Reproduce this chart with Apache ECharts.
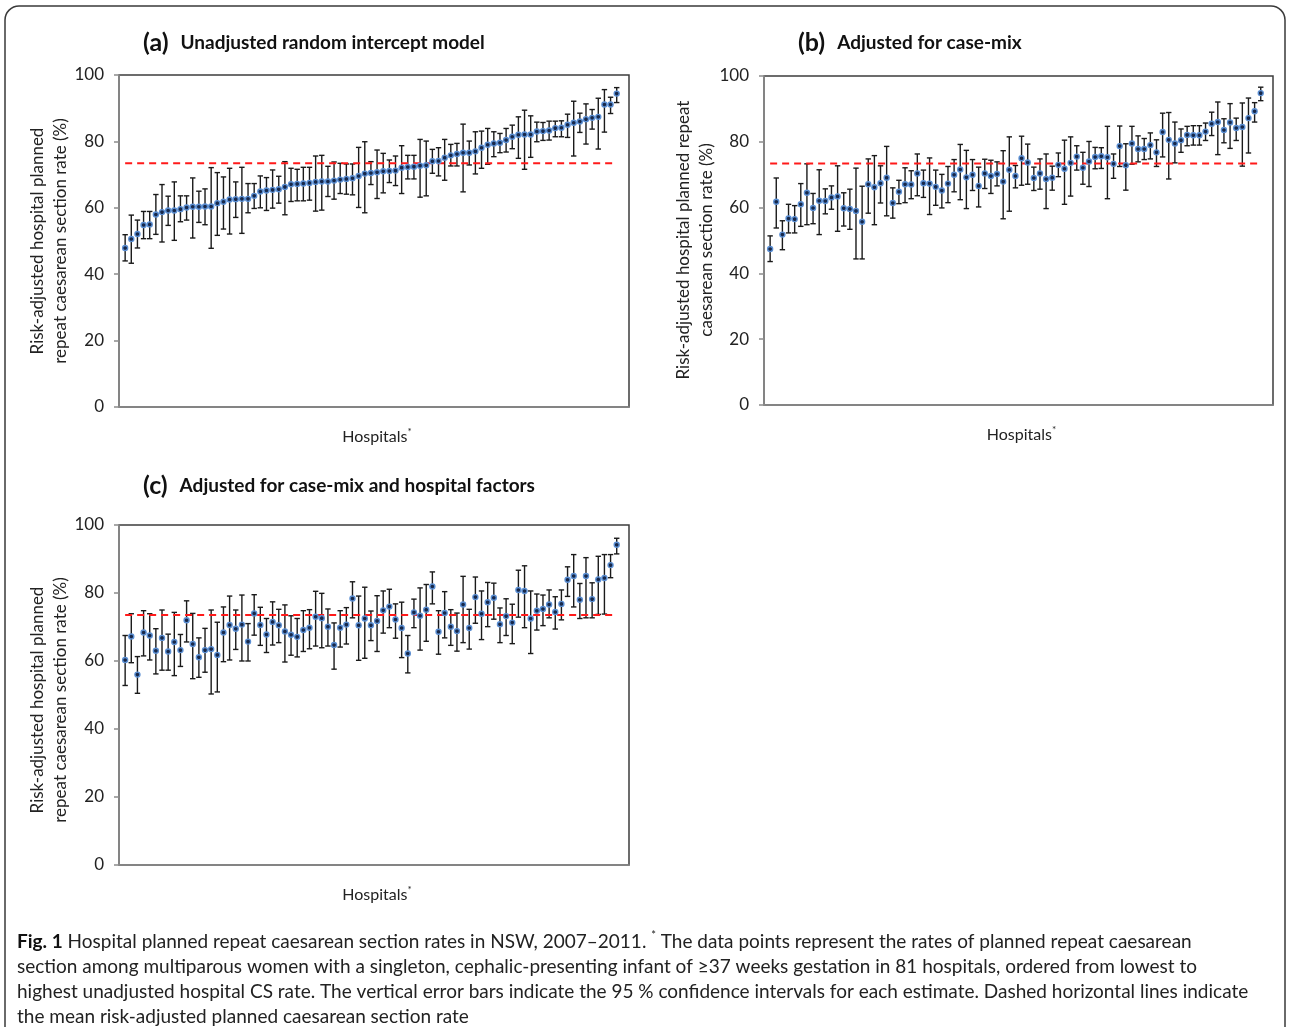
<!DOCTYPE html>
<html lang="en">
<head>
    <meta charset="UTF-8">
    <title>Hospital planned repeat caesarean section rates</title>
    <script src="https://cdn.jsdelivr.net/npm/echarts@6/dist/echarts.min.js"></script>
    <style>
        html, body {
            margin: 0;
            height: 100%;
            background: #fff;
        }
    </style>
</head>
<body>
<div id="main" style="width: 1290px;height: 1027px"></div>
</body>
</html>
<script>
    // (a) unadjusted random intercept model
    var rateA = [47.9, 50.6, 52.1, 54.8, 55.0, 58.0, 58.7, 59.2, 59.2, 59.6, 60.1, 60.3, 60.3, 60.4, 60.4, 61.4, 61.8, 62.5, 62.6, 62.7,
        62.7, 63.6, 64.9, 65.2, 65.4, 65.6, 66.3, 67.1, 67.2, 67.3, 67.5, 67.8, 67.9, 67.9, 68.2, 68.5, 68.7, 68.9, 69.6, 70.3,
        70.5, 70.7, 71.0, 71.1, 71.2, 72.1, 72.3, 72.4, 72.7, 72.8, 74.0, 74.1, 75.1, 75.8, 76.2, 76.6, 76.6, 77.0, 78.1, 79.0,
        79.4, 79.6, 80.4, 81.4, 82.0, 82.1, 82.1, 83.0, 83.1, 83.3, 84.0, 84.1, 85.0, 85.6, 86.0, 86.7, 87.1, 87.4, 91.1, 91.1, 94.4];
    var lowA = [44.0, 43.3, 47.9, 50.7, 50.7, 52.0, 49.7, 54.7, 50.2, 55.8, 56.3, 50.9, 55.6, 54.9, 47.8, 51.7, 53.6, 52.1, 57.1, 52.3,
        58.5, 59.8, 60.0, 59.2, 59.9, 61.4, 57.9, 61.9, 62.1, 62.1, 62.3, 59.0, 59.3, 63.4, 62.6, 64.3, 64.1, 63.9, 60.1, 58.5,
        67.0, 62.8, 64.5, 67.6, 66.7, 64.3, 68.7, 68.7, 63.2, 63.6, 70.4, 69.6, 68.3, 72.6, 72.6, 64.8, 72.9, 70.2, 71.9, 73.1,
        75.4, 76.6, 76.8, 77.8, 74.9, 71.6, 75.2, 79.9, 80.3, 80.4, 81.4, 81.4, 81.2, 75.6, 82.7, 79.2, 83.7, 77.7, 82.8, 88.4, 91.7];
    var highA = [51.9, 57.8, 56.3, 58.9, 58.9, 64.0, 67.0, 63.5, 67.8, 63.6, 63.6, 69.0, 65.0, 65.7, 72.1, 70.6, 69.3, 71.9, 67.8, 72.2,
        67.3, 67.3, 69.6, 69.1, 71.4, 69.5, 73.9, 71.9, 71.6, 72.2, 72.2, 75.6, 75.8, 72.5, 73.8, 73.4, 73.2, 73.2, 78.2, 79.9,
        73.9, 77.4, 76.4, 74.4, 75.6, 78.7, 75.8, 75.8, 80.6, 80.1, 77.6, 78.1, 80.6, 79.1, 79.4, 85.2, 80.1, 82.9, 83.1, 83.9,
        82.9, 82.4, 83.9, 84.9, 87.4, 89.4, 87.7, 85.8, 85.7, 86.1, 86.1, 86.2, 88.2, 92.1, 88.5, 91.3, 89.6, 93.0, 95.6, 93.3, 96.2];

    // (b) adjusted for case-mix
    var rateB = [47.4, 61.8, 51.8, 56.7, 56.5, 61.0, 64.5, 59.9, 62.1, 62.0, 63.1, 63.4, 59.8, 59.6, 59.0, 55.7, 67.1, 66.2, 67.4, 69.1,
        61.4, 64.8, 67.1, 67.0, 70.4, 67.4, 67.3, 66.3, 65.2, 67.3, 70.0, 71.6, 69.2, 70.0, 66.6, 70.4, 69.6, 70.2, 67.9, 71.5,
        69.6, 75.0, 73.7, 69.0, 70.4, 68.7, 69.1, 73.0, 71.8, 73.6, 75.5, 72.1, 74.0, 75.4, 75.6, 75.3, 73.3, 78.7, 72.9, 79.5,
        77.8, 77.8, 79.0, 76.8, 83.0, 80.6, 79.5, 80.5, 82.1, 82.0, 82.0, 83.1, 85.5, 86.0, 83.6, 85.9, 84.2, 84.5, 87.2, 89.3, 94.8];
    var lowB = [43.6, 53.8, 47.2, 52.3, 52.3, 54.3, 54.8, 55.1, 51.8, 58.1, 59.5, 52.8, 54.4, 53.4, 44.4, 44.4, 58.3, 54.8, 61.4, 57.5,
        56.8, 61.2, 61.5, 62.7, 63.6, 63.1, 57.9, 60.7, 59.9, 61.5, 64.8, 62.4, 59.7, 65.2, 60.2, 65.8, 64.3, 66.6, 56.6, 58.9,
        66.0, 66.8, 67.1, 65.2, 65.6, 59.7, 65.3, 69.4, 61.0, 63.5, 71.4, 67.1, 66.4, 71.8, 71.9, 62.7, 68.9, 72.5, 65.3, 73.2,
        73.9, 74.6, 74.8, 72.5, 75.4, 68.7, 73.6, 76.8, 78.8, 79.0, 79.0, 80.4, 81.9, 76.1, 79.7, 78.0, 80.4, 72.6, 76.6, 86.0, 92.5];
    var highB = [51.4, 69.0, 56.0, 61.0, 60.6, 67.3, 73.3, 64.3, 71.5, 65.7, 66.6, 72.7, 64.5, 65.6, 72.0, 66.5, 74.8, 75.8, 72.7, 78.6,
        66.0, 68.3, 72.1, 71.2, 76.3, 71.4, 75.1, 71.4, 70.1, 72.5, 74.6, 79.2, 77.4, 74.6, 72.3, 74.7, 74.4, 73.9, 77.3, 81.5,
        72.8, 81.7, 79.3, 72.3, 74.8, 76.3, 72.6, 76.6, 80.5, 81.5, 78.8, 76.8, 80.1, 78.3, 78.2, 84.7, 76.3, 84.8, 79.4, 84.7,
        81.8, 81.0, 82.7, 80.6, 88.7, 88.9, 86.0, 83.9, 84.7, 84.9, 84.9, 85.7, 89.0, 92.1, 87.0, 91.6, 87.2, 91.8, 93.3, 91.9, 96.6];

    // (c) adjusted for case-mix and hospital factors
    var rateC = [60.3, 67.2, 56.0, 68.4, 67.5, 63.0, 66.8, 62.8, 65.6, 63.2, 72.0, 65.0, 61.1, 63.2, 63.5, 61.8, 68.4, 70.6, 69.5, 70.7,
        65.7, 74.0, 70.6, 67.8, 71.5, 70.5, 68.7, 67.7, 67.1, 69.1, 69.8, 73.0, 72.6, 70.1, 64.7, 69.8, 70.7, 78.4, 70.5, 72.5,
        70.5, 71.8, 74.9, 76.0, 72.2, 69.7, 62.2, 74.3, 73.3, 75.1, 81.9, 68.6, 74.1, 70.1, 68.8, 76.6, 69.7, 78.8, 73.9, 77.3,
        78.6, 70.8, 73.2, 71.3, 80.9, 80.6, 72.5, 74.8, 75.3, 76.6, 74.4, 76.8, 83.9, 85.0, 78.0, 85.0, 78.2, 84.0, 84.4, 88.2, 94.2];
    var lowC = [52.8, 59.5, 50.5, 61.5, 60.3, 56.2, 57.3, 57.3, 55.7, 58.4, 65.6, 54.8, 55.2, 56.7, 50.3, 50.9, 59.8, 60.3, 63.4, 60.0,
        60.0, 67.6, 64.6, 62.5, 64.7, 65.4, 59.7, 61.7, 61.2, 62.8, 63.6, 64.4, 63.9, 64.4, 57.6, 64.1, 65.0, 72.7, 60.2, 60.8,
        66.0, 62.8, 68.2, 69.8, 66.7, 61.0, 56.5, 69.8, 63.2, 65.8, 76.8, 62.0, 66.8, 64.6, 62.9, 65.4, 63.5, 71.1, 66.3, 70.1,
        72.3, 65.4, 67.5, 65.1, 72.9, 69.8, 62.2, 69.1, 70.4, 72.7, 69.4, 72.1, 79.0, 75.9, 72.5, 72.7, 72.7, 73.7, 73.8, 84.5, 91.5];
    var highC = [67.5, 73.9, 61.3, 74.8, 73.9, 69.5, 75.0, 67.9, 74.3, 67.8, 77.7, 74.0, 66.8, 69.6, 75.0, 71.4, 75.9, 79.1, 75.0, 79.4,
        71.0, 79.5, 75.8, 72.5, 77.4, 75.2, 76.5, 73.3, 72.5, 74.8, 75.1, 80.5, 79.9, 75.3, 71.2, 74.8, 75.7, 83.3, 79.1, 81.7,
        74.7, 79.2, 80.6, 81.1, 76.8, 77.3, 67.5, 78.2, 81.5, 82.5, 86.2, 74.8, 80.4, 75.1, 74.1, 84.9, 75.2, 84.7, 80.6, 83.1,
        82.9, 75.6, 78.3, 76.7, 86.7, 88.0, 80.6, 79.7, 79.4, 80.9, 78.9, 80.9, 87.7, 91.3, 82.8, 90.4, 83.0, 90.8, 91.3, 91.3, 96.1];

    // mean risk-adjusted rate (dashed lines)
    var meanRate = [73.4, 73.4, 73.5];

    var panelTitles = ['Unadjusted random intercept model', 'Adjusted for case-mix', 'Adjusted for case-mix and hospital factors'];
    var panelLetters = ['(a)', '(b)', '(c)'];
    var yTicks = [0, 20, 40, 60, 80, 100];

    var font = 'Lato, "Open Sans", sans-serif';

    var myChart = echarts.init(document.getElementById('main'), null, {renderer: 'canvas'});

    // grid boxes for the 3 panels
    var grids = [
        {left: 119, top: 75, width: 510, height: 332},
        {left: 764, top: 76, width: 509, height: 329},
        {left: 119, top: 525, width: 510, height: 340}
    ];

    function errorBars(params, api) {
        var x = api.value(0);
        var hi = api.coord([x, api.value(2)]);
        var lo = api.coord([x, api.value(1)]);
        var w = 2.7;
        var st = {stroke: '#1a1a1a', lineWidth: 1.4};
        return {
            type: 'group',
            children: [
                {type: 'line', shape: {x1: hi[0], y1: hi[1], x2: lo[0], y2: lo[1]}, style: st},
                {type: 'line', shape: {x1: hi[0] - w, y1: hi[1], x2: hi[0] + w, y2: hi[1]}, style: st},
                {type: 'line', shape: {x1: lo[0] - w, y1: lo[1], x2: lo[0] + w, y2: lo[1]}, style: st}
            ]
        };
    }

    var sets = [[rateA, lowA, highA], [rateB, lowB, highB], [rateC, lowC, highC]];
    var xAxes = [], yAxes = [], series = [];

    for (var p = 0; p < 3; p++) {
        var rate = sets[p][0], low = sets[p][1], high = sets[p][2];
        var pts = [], bars = [];
        for (var i = 0; i < rate.length; i++) {
            pts.push([i + 1, rate[i]]);
            bars.push([i + 1, low[i], high[i]]);
        }
        xAxes.push({
            type: 'value', gridIndex: p, min: 0, max: 83,
            axisLine: {show: true, lineStyle: {color: '#8c8c8c', width: 1.5}},
            axisTick: {show: false}, axisLabel: {show: false}, splitLine: {show: false}
        });
        yAxes.push({
            type: 'value', gridIndex: p, min: 0, max: 100, interval: 20,
            axisLine: {show: true, lineStyle: {color: '#8c8c8c', width: 1.5}},
            axisTick: {show: true, length: 5, lineStyle: {color: '#8c8c8c', width: 1.5}},
            axisLabel: {
                fontSize: 17, color: '#222', fontFamily: font, margin: 15,
                formatter: function (v) { return yTicks.indexOf(v) >= 0 ? String(v) : ''; }
            },
            splitLine: {show: false}
        });
        series.push({
            type: 'custom', xAxisIndex: p, yAxisIndex: p,
            renderItem: errorBars, encode: {x: 0, y: [1, 2]},
            data: bars, z: 2, silent: true
        });
        series.push({
            type: 'line', xAxisIndex: p, yAxisIndex: p, symbol: 'none',
            lineStyle: {color: '#ff1a1a', width: 2, type: [7, 5]},
            data: [[1, meanRate[p]], [81, meanRate[p]]], z: 3, silent: true
        });
        series.push({
            type: 'scatter', xAxisIndex: p, yAxisIndex: p,
            symbol: 'circle', symbolSize: 5,
            itemStyle: {color: '#17284a', borderColor: '#5b8fd3', borderWidth: 1.4, opacity: 1},
            data: pts, z: 4, silent: true
        });
    }

    // titles, axis names, captions
    var titlePos = [[143, 43], [798, 43], [143, 486]];
    var graphics = [];
    graphics.push({
        type: 'rect', shape: {x: 5, y: 6, width: 1280, height: 1060, r: 14},
        style: {fill: 'none', stroke: '#3a3a3a', lineWidth: 1.5}, silent: true
    });
    for (var k = 0; k < 3; k++) {
        graphics.push({
            type: 'text', x: titlePos[k][0], y: titlePos[k][1],
            style: {
                text: '{l|' + panelLetters[k] + '}{t|' + panelTitles[k] + '}',
                align: 'left', verticalAlign: 'middle',
                rich: {
                    l: {fontSize: 25, fontWeight: 'bold', fontFamily: font, fill: '#111', padding: [0, 12, 0, 0]},
                    t: {fontSize: 19, fontWeight: 'bold', fontFamily: font, fill: '#111'}
                }
            }
        });
        var g = grids[k];
        graphics.push({
            type: 'text', x: g.left + g.width / 2 + 3, y: g.top + g.height + 30,
            style: {
                text: '{n|Hospitals}{s|*}', align: 'center', verticalAlign: 'middle',
                rich: {
                    n: {fontSize: 16, fontFamily: font, fill: '#222', lineHeight: 20},
                    s: {fontSize: 10, fontFamily: font, fill: '#222', lineHeight: 20, verticalAlign: 'top'}
                }
            }
        });
    }
    var yNames = [
        [49, 241, 'Risk-adjusted hospital planned\nrepeat caesarean section rate (%)'],
        [695, 240, 'Risk-adjusted hospital planned repeat\ncaesarean section rate (%)'],
        [49, 700, 'Risk-adjusted hospital planned\nrepeat caesarean section rate (%)']
    ];
    for (var n = 0; n < 3; n++) {
        graphics.push({
            type: 'text', x: yNames[n][0], y: yNames[n][1], rotation: Math.PI / 2,
            style: {
                text: yNames[n][2], align: 'center', verticalAlign: 'middle',
                fontSize: 17, lineHeight: 23, fontFamily: font, fill: '#222'
            }
        });
    }

    var capLines = [
        '{b|Fig. 1} Hospital planned repeat caesarean section rates in NSW, 2007–2011. {s|*} The data points represent the rates of planned repeat caesarean',
        'section among multiparous women with a singleton, cephalic-presenting infant of ≥37 weeks gestation in 81 hospitals, ordered from lowest to',
        'highest unadjusted hospital CS rate. The vertical error bars indicate the 95 % confidence intervals for each estimate. Dashed horizontal lines indicate',
        'the mean risk-adjusted planned caesarean section rate'
    ];
    for (var c = 0; c < capLines.length; c++) {
        graphics.push({
            type: 'text', x: 17, y: 942 + c * 25,
            style: {
                text: capLines[c], align: 'left', verticalAlign: 'middle',
                rich: {
                    b: {fontSize: 19, fontWeight: 'bold', fontFamily: font, fill: '#111', lineHeight: 24},
                    s: {fontSize: 11, fontFamily: font, fill: '#222', lineHeight: 24, verticalAlign: 'top'}
                },
                fontSize: 19, fontFamily: font, fill: '#222', lineHeight: 24
            }
        });
    }

    var option = {
        backgroundColor: '#fff',
        animation: false,
        grid: grids.map(function (g) {
            return {left: g.left, top: g.top, width: g.width, height: g.height,
                show: true, borderColor: '#3c3c3c', borderWidth: 1.5, backgroundColor: 'transparent'};
        }),
        xAxis: xAxes,
        yAxis: yAxes,
        series: series,
        graphic: graphics
    };

    myChart.setOption(option);
</script>
